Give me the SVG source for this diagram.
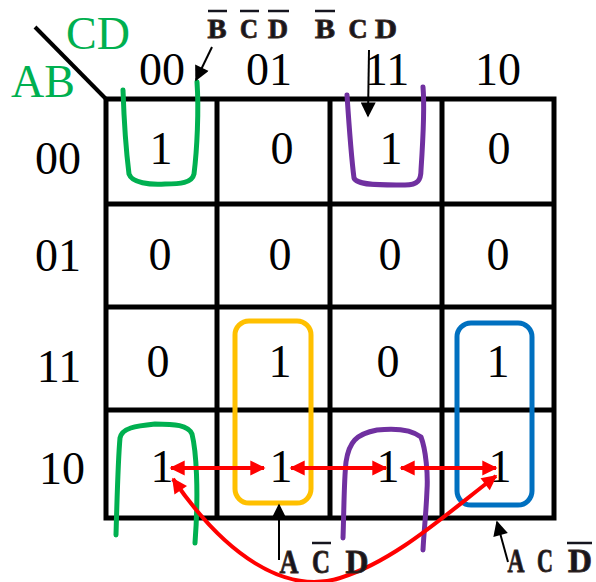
<svg xmlns="http://www.w3.org/2000/svg" width="596" height="582" viewBox="0 0 596 582">
  <style>
    .num { font-family: "Liberation Serif", "Times New Roman", serif; font-size: 46px; fill: #000; text-anchor: middle; }
    .var { font-family: "Liberation Serif", "Times New Roman", serif; font-size: 46px; fill: #00B050; }
    .term { font-family: "Liberation Serif", "Times New Roman", serif; font-weight: bold; fill: #15151f; text-anchor: middle; stroke: #3a2a1e; stroke-width: 0.9; }
    .t-sm { font-size: 27px; }
    .t-lg { font-size: 34px; }
    .bar { stroke: #15151f; stroke-width: 2.5; }
    .grid { fill: none; stroke: #000; stroke-width: 5; }
    .loop { fill: none; stroke-width: 5; stroke-linecap: round; stroke-linejoin: round; }
    .red { fill: none; stroke: #FF0000; stroke-width: 4; }
    .ptr { fill: none; stroke: #000; stroke-width: 2; }
  </style>
  <defs>
    <marker id="redHead" viewBox="0 0 10 10" refX="9" refY="5" markerWidth="4.4" markerHeight="3.8" orient="auto-start-reverse" markerUnits="strokeWidth">
      <path d="M0,0 L10,5 L0,10 Z" fill="#FF0000"/>
    </marker>
    <marker id="blackHead" viewBox="0 0 10 10" refX="9" refY="5" markerWidth="8.5" markerHeight="7.5" orient="auto" markerUnits="strokeWidth">
      <path d="M0,0 L10,5 L0,10 Z" fill="#000"/>
    </marker>
  </defs>

  <rect width="596" height="582" fill="#fff"/>

  <!-- map grid -->
  <g id="grid">
    <line x1="35" y1="27" x2="106" y2="99" stroke="#000" stroke-width="4"/>
    <rect class="grid" x="106" y="99" width="448" height="419"/>
    <line class="grid" x1="217" y1="99" x2="217" y2="518"/>
    <line class="grid" x1="330" y1="99" x2="330" y2="518"/>
    <line class="grid" x1="442" y1="99" x2="442" y2="518"/>
    <line class="grid" x1="106" y1="204" x2="554" y2="204"/>
    <line class="grid" x1="106" y1="307" x2="554" y2="307"/>
    <line class="grid" x1="106" y1="410" x2="554" y2="410"/>
  </g>

  <!-- variable names -->
  <g id="axis-names">
    <text class="var" x="66" y="49">CD</text>
    <text class="var" x="11" y="97">AB</text>
  </g>

  <!-- column and row headings -->
  <g id="headings">
    <text class="num" x="162" y="85">00</text>
    <text class="num" x="269" y="85">01</text>
    <text class="num" x="387" y="85">11</text>
    <text class="num" x="498" y="85">10</text>
    <text class="num" x="58" y="174">00</text>
    <text class="num" x="58" y="271">01</text>
    <text class="num" x="59" y="382">11</text>
    <text class="num" x="62" y="484">10</text>
  </g>

  <!-- cell values -->
  <g id="cells">
    <text class="num" x="161" y="164">1</text>
    <text class="num" x="282" y="164">0</text>
    <text class="num" x="391" y="164">1</text>
    <text class="num" x="499" y="164">0</text>

    <text class="num" x="160" y="270">0</text>
    <text class="num" x="280" y="270">0</text>
    <text class="num" x="390" y="270">0</text>
    <text class="num" x="498" y="270">0</text>

    <text class="num" x="158" y="377">0</text>
    <text class="num" x="280" y="377">1</text>
    <text class="num" x="388" y="377">0</text>
    <text class="num" x="498" y="377">1</text>

    <text class="num" x="162" y="482">1</text>
    <text class="num" x="281" y="482">1</text>
    <text class="num" x="388" y="482">1</text>
    <text class="num" x="500" y="482">1</text>
  </g>

  <!-- groupings -->
  <g id="groups">
    <path class="loop" stroke="#00B050" d="M123,90 C124,120 126,150 129,174 C132,183 150,185 165,184 C180,184 192,183 194,174 C197,150 199,110 197,82"/>
    <path class="loop" stroke="#7030A0" d="M347,95 C349,125 351,155 354,178 C357,186 385,185 405,185 C418,185 421,180 421,170 C423,140 425,110 423,87"/>
    <path class="loop" stroke="#00B050" d="M116,535 C117,500 118,460 120,438 C122,428 135,426 155,424 C175,424 188,425 192,434 C196,450 199,490 195,543"/>
    <path class="loop" stroke="#7030A0" d="M343,538 C344,510 344,480 346,462 C349,442 356,434 377,430 C395,428 412,430 421,437 C426,450 428,475 427,490 C426,515 424,530 423,550"/>
    <rect class="loop" stroke="#FFC000" x="235" y="321" width="76" height="182" rx="14"/>
    <rect class="loop" stroke="#0070C0" x="457" y="323" width="75" height="182" rx="14"/>
  </g>

  <!-- connectors -->
  <g id="connectors">
    <line class="red" x1="171" y1="468" x2="264" y2="468" marker-start="url(#redHead)" marker-end="url(#redHead)"/>
    <line class="red" x1="291" y1="468" x2="386" y2="468" marker-start="url(#redHead)" marker-end="url(#redHead)"/>
    <line class="red" x1="401" y1="468" x2="496" y2="468" marker-start="url(#redHead)" marker-end="url(#redHead)"/>
    <path class="red" d="M173,479 C225,555 285,595 340,578 C395,561 445,515 496,476" marker-start="url(#redHead)" marker-end="url(#redHead)"/>

    <line class="ptr" x1="212" y1="47" x2="196" y2="80" marker-end="url(#blackHead)"/>
    <line class="ptr" x1="369" y1="50" x2="368" y2="116" marker-end="url(#blackHead)"/>
    <line class="ptr" x1="279" y1="560" x2="279" y2="505" marker-end="url(#blackHead)"/>
    <line class="ptr" x1="508" y1="562" x2="497" y2="522" marker-end="url(#blackHead)"/>
  </g>

  <!-- term labels -->
  <g id="term-bcd-bar">
    <text class="term t-sm" x="217" y="38" textLength="19" lengthAdjust="spacingAndGlyphs">B</text>
    <text class="term t-sm" x="249" y="38" textLength="18" lengthAdjust="spacingAndGlyphs">C</text>
    <text class="term t-sm" x="278" y="38" textLength="20" lengthAdjust="spacingAndGlyphs">D</text>
    <line class="bar" x1="208" y1="11" x2="227" y2="11"/>
    <line class="bar" x1="240" y1="11" x2="259" y2="11"/>
    <line class="bar" x1="268" y1="11" x2="289" y2="11"/>
  </g>
  <g id="term-bcd">
    <text class="term t-sm" x="325" y="38" textLength="20" lengthAdjust="spacingAndGlyphs">B</text>
    <text class="term t-sm" x="358" y="38" textLength="19" lengthAdjust="spacingAndGlyphs">C</text>
    <text class="term t-sm" x="386" y="38" textLength="22" lengthAdjust="spacingAndGlyphs">D</text>
    <line class="bar" x1="315" y1="11" x2="335" y2="11"/>
  </g>
  <g id="term-acd">
    <text class="term t-lg" x="289" y="573" textLength="19" lengthAdjust="spacingAndGlyphs">A</text>
    <text class="term t-lg" x="321" y="573" textLength="18" lengthAdjust="spacingAndGlyphs">C</text>
    <text class="term t-lg" x="357" y="573" textLength="23" lengthAdjust="spacingAndGlyphs">D</text>
    <line class="bar" x1="312" y1="543" x2="331" y2="543"/>
  </g>
  <g id="term-acd-bar">
    <text class="term t-lg" x="516" y="572" textLength="17" lengthAdjust="spacingAndGlyphs">A</text>
    <text class="term t-lg" x="545" y="572" textLength="16" lengthAdjust="spacingAndGlyphs">C</text>
    <text class="term t-lg" x="580" y="572" textLength="24" lengthAdjust="spacingAndGlyphs">D</text>
    <line class="bar" x1="567" y1="543" x2="592" y2="543"/>
  </g>
</svg>
